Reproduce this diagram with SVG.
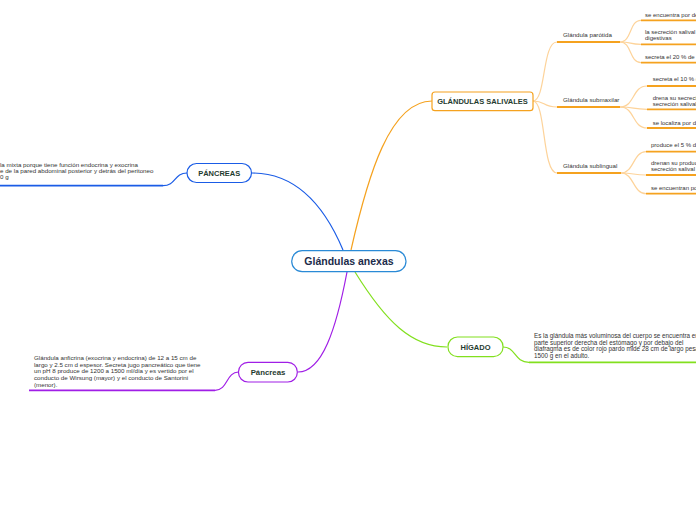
<svg xmlns="http://www.w3.org/2000/svg" width="696" height="520" viewBox="0 0 696 520">
<style>
.bg{fill:#ffffff}
.node{fill:#ffffff;stroke-width:1.2}
.t-main{font-family:"Liberation Sans",Arial,sans-serif;font-weight:bold;font-size:10.5px;fill:#1c2b4a;text-anchor:middle}
.t-node{font-family:"Liberation Sans",Arial,sans-serif;font-weight:bold;font-size:7.5px;fill:#1f3b2f;text-anchor:middle}
.t-sub{font-family:"Liberation Sans",Arial,sans-serif;font-size:6.2px;fill:#333333}
.t-leaf{font-family:"Liberation Sans",Arial,sans-serif;font-size:6.2px;fill:#333333}
.t-sl{font-family:"Liberation Sans",Arial,sans-serif;font-size:6px;fill:#333333}
.c{fill:none;stroke-width:1.2}
.u{fill:none;stroke-width:1.8}
.orange{stroke:#f5a21f}
.lorange{stroke:#fdd39a}
.blue{stroke:#1a5ce6}
.purple{stroke:#a01ee6}
.green{stroke:#82e01e}
</style>
<rect class="bg" x="0" y="0" width="696" height="520"/>
<g id="connectors">
<path class="c orange" d="M351,250 C368,175 390,101 432,101"/>
<path class="c blue" d="M343,250 C322,200 292,173 252,173"/>
<path class="c purple" d="M347,272 C336,330 322,372 298,372"/>
<path class="c green" d="M355,272 C386,322 412,347 447,347"/>
<path class="c lorange" d="M533,101 C546,101 542,42 557,42"/>
<path class="c lorange" d="M533,101 C546,101 542,107 557,107"/>
<path class="c lorange" d="M533,101 C546,101 542,173 557,173"/>
<path class="u orange" d="M557,42 H620"/>
<path class="u orange" d="M557,107 H620"/>
<path class="u orange" d="M557,173 H621"/>
<path class="c lorange" d="M620,42 C632,42 629,20.3 641,20.3"/>
<path class="c lorange" d="M620,42 C632,42 629,44.3 641,44.3"/>
<path class="c lorange" d="M620,42 C632,42 629,62.7 641,62.7"/>
<path class="u orange" d="M641,20.3 H696 M641,44.3 H696 M641,62.7 H696"/>
<path class="c lorange" d="M620,107 C635,107 632,86 647,86"/>
<path class="c lorange" d="M620,107 C635,107 632,109.3 647,109.3"/>
<path class="c lorange" d="M620,107 C635,107 632,128 647,128"/>
<path class="u orange" d="M647,86 H696 M647,109.3 H696 M647,128 H696"/>
<path class="c lorange" d="M621,173 C634,173 633,151.7 646,151.7"/>
<path class="c lorange" d="M621,173 C634,173 633,175 646,175"/>
<path class="c lorange" d="M621,173 C634,173 633,193.7 646,193.7"/>
<path class="u orange" d="M646,151.7 H696 M646,175 H696 M646,193.7 H696"/>
<path class="c blue" d="M187,173 C174,173 176,185.7 163,185.7"/>
<path class="u blue" d="M163,185.7 H0"/>
<path class="c purple" d="M238.5,372 C226,372 228,390.3 215,390.3"/>
<path class="u purple" d="M215,390.3 H29"/>
<path class="c green" d="M503,347 C516,347 514,362.3 529,362.3"/>
<path class="u green" d="M529,362.3 H696"/>
</g>
<g id="center">
<rect class="node" x="291.7" y="250.7" width="114.3" height="21" rx="10.5" style="stroke:#2a8ad6"/>
<text class="t-main" x="349" y="265">Glándulas anexas</text>
</g>
<g id="salivales">
<rect class="node" x="432" y="92" width="101" height="18.7" rx="3" style="stroke:#f5a21f"/>
<text class="t-node" x="482.5" y="103.8">GLÁNDULAS SALIVALES</text>
</g>
<g id="parotida">
<text class="t-sub" x="563" y="37">Glándula parótida</text>
<text class="t-sl" x="645" y="16.5">se  encuentra por delante del oído</text>
<text class="t-sl" x="645" y="33.8">la secreción salival ayuda a las funciones</text>
<text class="t-sl" x="645" y="39.8">digestivas</text>
<text class="t-sl" x="645" y="58.8">secreta el 20 % de la saliva</text>
</g>
<g id="submaxilar">
<text class="t-sub" x="563" y="102.3">Glándula submaxilar</text>
<text class="t-sl" x="652.7" y="81">secreta el 10 % de la saliva</text>
<text class="t-sl" x="652.7" y="99.5">drena su secreción por el conducto</text>
<text class="t-sl" x="652.7" y="105.5">secreción salival</text>
<text class="t-sl" x="652.7" y="124.5">se localiza por debajo</text>
</g>
<g id="sublingual">
<text class="t-sub" x="563" y="168">Glándula sublingual</text>
<text class="t-sl" x="651" y="147">produce el 5 % de la saliva</text>
<text class="t-sl" x="651" y="165">drenan su producto</text>
<text class="t-sl" x="651" y="171">secreción salival</text>
<text class="t-sl" x="651" y="189.5">se encuentran por debajo</text>
</g>
<g id="pancreas-top">
<rect class="node" x="187" y="163.5" width="64.5" height="19" rx="9.5" style="stroke:#1a5ce6"/>
<text class="t-node" x="219.2" y="175.7">PÁNCREAS</text>
<text class="t-leaf" x="0" y="166.5">la mixta porque tiene función endocrina y exocrina</text>
<text class="t-leaf" x="0" y="172.8">e de la pared abdominal posterior y detrás del peritoneo</text>
<text class="t-leaf" x="0" y="179.1">0 g</text>
</g>
<g id="pancreas-bottom">
<rect class="node" x="238.5" y="362.3" width="58.8" height="19.7" rx="9.5" style="stroke:#a01ee6"/>
<text class="t-node" x="268" y="375" style="font-size:7.8px">Páncreas</text>
<text class="t-leaf" x="34" y="360">Glándula anficrina (exocrina y endocrina) de 12 a 15 cm de</text>
<text class="t-leaf" x="34" y="366.6">largo y 2.5 cm d espesor. Secreta jugo pancreático que tiene</text>
<text class="t-leaf" x="34" y="373.3">un pH 8 produce de 1200 a 1500 ml/día y es vertido por el</text>
<text class="t-leaf" x="34" y="380">conducto de Wirsung (mayor) y el conducto de Santorini</text>
<text class="t-leaf" x="34" y="386.7">(menor).</text>
</g>
<g id="higado">
<rect class="node" x="448" y="337" width="55" height="19.7" rx="9.5" style="stroke:#82e01e"/>
<text class="t-node" x="475.5" y="349.5">HÍGADO</text>
<text class="t-leaf" x="534" y="338" style="font-size:6.3px">Es la glándula más voluminosa del cuerpo se encuentra en la</text>
<text class="t-leaf" x="534" y="344.6" style="font-size:6.3px">parte superior derecha del estómago y por debajo del</text>
<text class="t-leaf" x="534" y="351" style="font-size:6.3px">diafragma es de color rojo pardo mide 28 cm de largo pesa</text>
<text class="t-leaf" x="534" y="357.5" style="font-size:6.3px">1500 g en el adulto.</text>
</g>
</svg>
